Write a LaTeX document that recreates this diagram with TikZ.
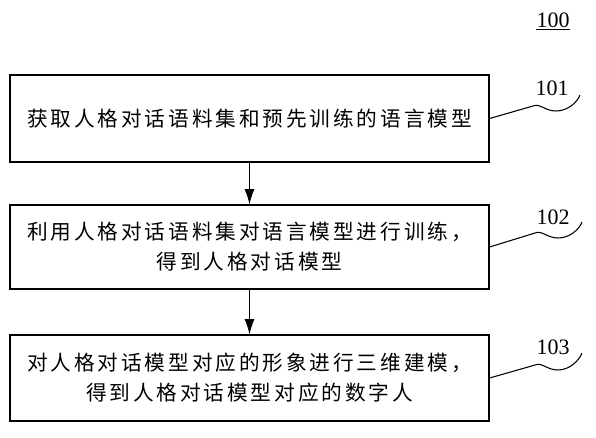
\documentclass[tikz,border=0pt]{standalone}
\usepackage{fontspec}
\newfontfamily\cjk[LetterSpace=14]{Noto Sans CJK SC}
\newfontfamily\numfont{Liberation Serif}
\usetikzlibrary{arrows.meta,calc}
\tikzset{
  stepbox/.style={draw, line width=0.9pt, minimum width=359.25pt, inner sep=0pt, align=center,
    font=\cjk\fontsize{15.5}{22.5}\selectfont},
  numlabel/.style={font=\numfont\fontsize{16.5}{18}\selectfont, inner sep=0pt},
  leader/.style={line width=0.8pt},
  flow/.style={line width=0.8pt, -{Latex[length=11.5pt,width=7.5pt]}}
}
\begin{document}
\begin{tikzpicture}[x=0.75pt,y=-0.75pt]
\useasboundingbox (0,0) rectangle (596,437);
\node[stepbox, minimum height=65.25pt] (b1) at (249.5,118.5) {获取人格对话语料集和预先训练的语言模型};
\node[stepbox, minimum height=63pt] (b2) at (249.5,247) {利用人格对话语料集对语言模型进行训练，\\得到人格对话模型};
\node[stepbox, minimum height=64.5pt] (b3) at (249.5,378) {对人格对话模型对应的形象进行三维建模，\\得到人格对话模型对应的数字人};
\draw[flow] (b1.south) -- (b2.north);
\draw[flow] (b2.south) -- (b3.north);
\node[numlabel] (n0) at (553,20) {100};
\draw[line width=0.7pt] ([yshift=-1.5pt]n0.south west) -- ([yshift=-1.5pt]n0.south east);
\node[numlabel] (n1) at (552,88) {101};
\node[numlabel] (n2) at (553,217) {102};
\node[numlabel] (n3) at (553,347) {103};
\coordinate (a1) at (533,106); \coordinate (e1) at (580,95);
\coordinate (a2) at (535,233); \coordinate (e2) at (582,222);
\coordinate (a3) at (535,365); \coordinate (e3) at (582,353);
\foreach \i in {1,2,3}{
  \draw[leader] (b\i.east) -- (a\i) .. controls +(7,-3) and +(-11,0) .. ($(a\i)+(23,5)$) .. controls +(11,0) and +(-3,8) .. (e\i);
}
\end{tikzpicture}
\end{document}
